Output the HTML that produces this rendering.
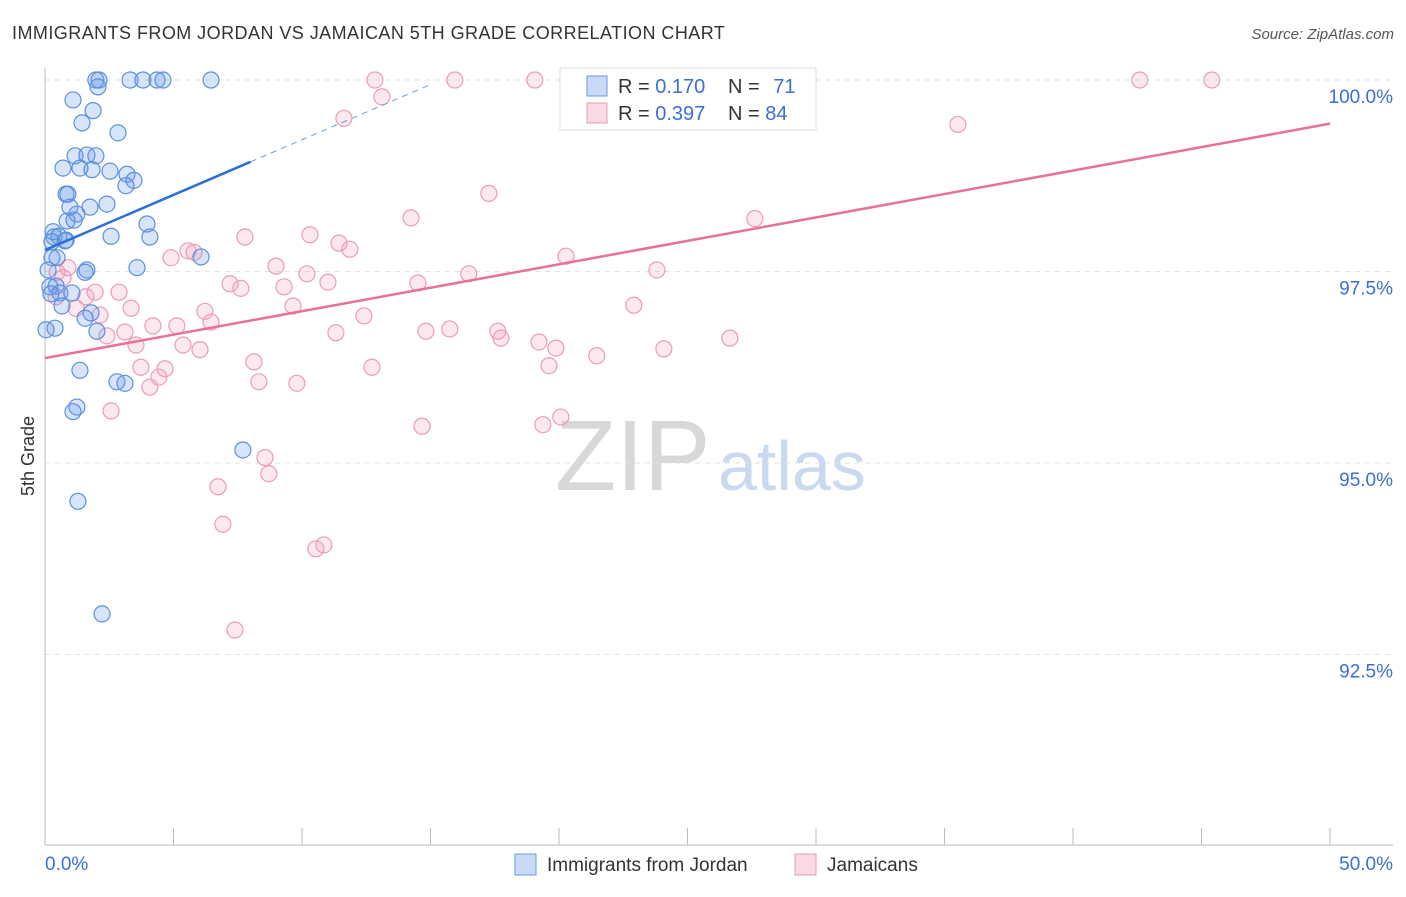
<!DOCTYPE html>
<html><head><meta charset="utf-8"><style>
body{margin:0;background:#fff;font-family:"Liberation Sans",sans-serif}
svg text{font-family:"Liberation Sans",sans-serif}
</style></head><body>
<svg id="c" width="1406" height="892" viewBox="0 0 1406 892">
<text x="12" y="39" font-size="18" fill="#333" letter-spacing="0.45">IMMIGRANTS FROM JORDAN VS JAMAICAN 5TH GRADE CORRELATION CHART</text>
<text x="1394" y="39" font-size="15" fill="#555" font-style="italic" text-anchor="end">Source: ZipAtlas.com</text>
<text transform="translate(34,456) rotate(-90)" font-size="18" fill="#333" text-anchor="middle">5th Grade</text>
<g><text x="555" y="490" font-size="100" fill="#d8d8d8" font-family="Liberation Serif">ZIP</text><text x="718" y="490" font-size="70" fill="#c9d9f0">atlas</text></g>
<g id="grid"></g><g id="axes"></g><g id="pts"></g><g id="lines"></g>
<g>
<rect x="560" y="68" width="256" height="62" fill="#fff" stroke="#ddd"/>
<rect x="587" y="76" width="20" height="20" fill="rgba(100,150,230,0.35)" stroke="#6a9ae0"/>
<rect x="587" y="103" width="20" height="20" fill="rgba(240,150,180,0.35)" stroke="#e89ab5"/>
<text x="618" y="93" font-size="20" fill="#333">R = <tspan fill="#3b6fd4">0.170</tspan></text>
<text x="728" y="93" font-size="20" fill="#333">N = <tspan fill="#3b6fd4" dx="8">71</tspan></text>
<text x="618" y="120" font-size="20" fill="#333">R = <tspan fill="#3b6fd4">0.397</tspan></text>
<text x="728" y="120" font-size="20" fill="#333">N = <tspan fill="#3b6fd4">84</tspan></text>
</g>
<g>
<rect x="515" y="854" width="21" height="21" fill="rgba(100,150,230,0.35)" stroke="#6a9ae0"/>
<text x="547" y="871" font-size="19" fill="#333">Immigrants from Jordan</text>
<rect x="795" y="854" width="21" height="21" fill="rgba(240,150,180,0.35)" stroke="#e89ab5"/>
<text x="827" y="871" font-size="19" fill="#333">Jamaicans</text>
</g>
</svg>
<script>
const yTicks=[100,97.5,95,92.5];
const yTickLabels=["100.0%","97.5%","95.0%","92.5%"];
const xTickLabels=["0.0%","50.0%"];
const blueX=[1.98,2.10,3.31,3.81,4.36,4.59,6.46,1.09,2.06,1.87,1.44,2.84,1.17,1.63,1.98,0.70,1.36,1.83,2.53,3.19,3.46,3.15,0.82,0.89,2.41,0.97,1.75,1.24,0.86,1.13,3.97,0.31,0.35,0.54,0.82,2.57,4.08,0.27,0.78,0.47,0.27,6.07,1.63,1.56,3.58,0.12,0.19,0.43,0.58,0.23,1.05,0.66,1.79,1.56,2.02,0.39,0.04,1.36,2.80,3.11,1.24,1.09,7.70,1.28,2.22];
const blueY=[100,100,100,100,100,100,100,99.74,99.91,99.60,99.44,99.31,99.01,99.02,99.01,98.85,98.85,98.83,98.81,98.77,98.69,98.62,98.51,98.51,98.38,98.34,98.34,98.25,98.16,98.17,98.12,98.02,97.95,97.96,97.91,97.96,97.95,97.89,97.90,97.68,97.68,97.69,97.52,97.49,97.55,97.52,97.30,97.31,97.22,97.21,97.22,97.05,96.96,96.89,96.72,96.76,96.74,96.21,96.06,96.04,95.73,95.67,95.17,94.50,93.03];
const pinkX=[12.84,15.95,19.06,26.45,42.60,45.40,13.11,11.63,35.52,17.27,27.62,14.24,7.78,10.31,11.44,11.86,5.56,5.80,4.90,20.27,8.99,10.19,23.81,16.49,0.89,0.47,0.70,7.20,7.62,9.30,11.01,14.51,1.95,2.88,1.59,0.43,9.65,1.21,3.35,6.22,22.91,6.46,12.41,2.14,3.11,4.20,5.13,14.82,15.75,17.62,17.74,11.32,26.65,2.41,3.54,5.37,6.03,19.22,19.88,24.08,21.47,8.13,3.73,4.67,12.72,19.61,4.43,4.08,8.32,9.80,2.57,14.67,19.37,20.07,8.56,8.71,6.73,6.92,10.85,10.54,7.39];
const pinkY=[100,100,100,100,100,100,99.78,99.50,99.42,98.52,98.19,98.20,97.95,97.98,97.87,97.79,97.77,97.75,97.68,97.70,97.57,97.47,97.52,97.47,97.55,97.49,97.42,97.34,97.28,97.30,97.36,97.35,97.23,97.23,97.17,97.17,97.05,97.02,97.02,96.98,97.06,96.84,96.92,96.93,96.71,96.79,96.79,96.72,96.75,96.72,96.63,96.70,96.63,96.66,96.54,96.54,96.48,96.58,96.50,96.49,96.40,96.32,96.25,96.23,96.25,96.27,96.12,95.99,96.06,96.04,95.68,95.48,95.50,95.60,95.07,94.86,94.69,94.20,93.93,93.88,92.82];
const blueTrend=[97.78,0.144];
const pinkTrend=[96.37,0.0612];
const NS="http://www.w3.org/2000/svg";
const X=v=>45+v/50*1285, Y=v=>80+(100-v)/2.5*191.5;
function mk(p,t,a){const e=document.createElementNS(NS,t);for(const k in a)e.setAttribute(k,a[k]);p.appendChild(e);return e;}
const g=document.getElementById('grid'),ax=document.getElementById('axes'),pts=document.getElementById('pts'),ln=document.getElementById('lines');
yTicks.forEach((t,i)=>{
 const l=mk(g,'line',{x1:45,x2:1393,y1:Y(t),y2:Y(t),stroke:'#e2e2e2','stroke-dasharray':'5,5'});
 
 
 const tx=mk(g,'text',{x:1393,y:Y(t)+23,'font-size':19,fill:'#3b6fd4','text-anchor':'end'});tx.textContent=yTickLabels[i];
 
 
});
mk(ax,'line',{x1:45,x2:45,y1:68,y2:845,stroke:'#bbb'});
mk(ax,'line',{x1:45,x2:1393,y1:845,y2:845,stroke:'#bbb'});
for(let i=0;i<=10;i++){const t=mk(ax,'line',{x1:X(i*5),x2:X(i*5),y1:828,y2:845,stroke:'#bbb'});
 
 }
[[0,'start'],[50,'end']].forEach((d,i)=>{const t=mk(ax,'text',{x:i?1393:45,y:870,'font-size':19,fill:'#3b6fd4','text-anchor':d[1]});t.textContent=xTickLabels[i];
 
 });
pinkX.forEach((x,i)=>{const c=mk(pts,'circle',{cx:X(x),cy:Y(pinkY[i]),r:8,fill:'rgba(240,150,180,0.22)',stroke:'#eb9cb8','stroke-width':1.2});
 
 });
blueX.forEach((x,i)=>{const c=mk(pts,'circle',{cx:X(x),cy:Y(blueY[i]),r:8,fill:'rgba(100,150,230,0.25)',stroke:'#5b8fe0','stroke-width':1.2});
 
 });
let l=mk(ln,'line',{x1:X(0),y1:Y(blueTrend[0]),x2:X(8),y2:Y(blueTrend[0]+8*blueTrend[1]),stroke:'#2a6fd6','stroke-width':2.5});


l=mk(ln,'line',{x1:X(8),y1:Y(blueTrend[0]+8*blueTrend[1]),x2:X(15),y2:Y(blueTrend[0]+15*blueTrend[1]),stroke:'#6a9ae0','stroke-width':1,'stroke-dasharray':'6,5'});


l=mk(ln,'line',{x1:X(0),y1:Y(pinkTrend[0]),x2:X(50),y2:Y(pinkTrend[0]+50*pinkTrend[1]),stroke:'#e8709a','stroke-width':2.5});


</script>
</body></html>
